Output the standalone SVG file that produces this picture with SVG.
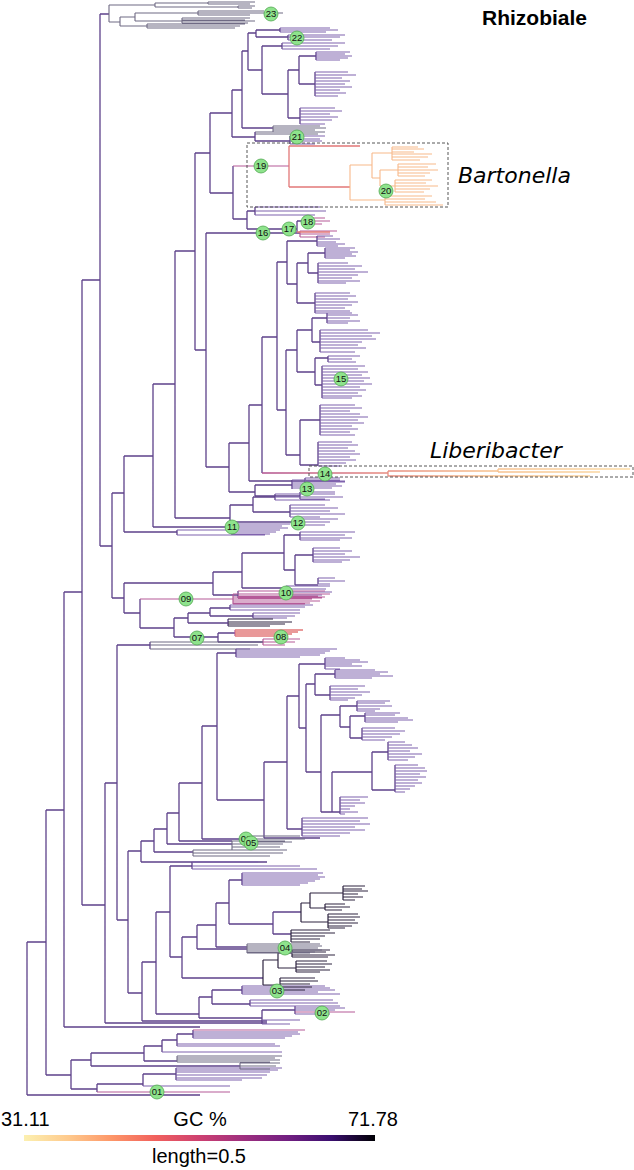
<svg xmlns="http://www.w3.org/2000/svg" width="634" height="1170" viewBox="0 0 634 1170">
<defs>
<linearGradient id="gc" x1="0" y1="0" x2="1" y2="0">
<stop offset="0" stop-color="#fcf0b0"/><stop offset="0.125" stop-color="#feca8d"/><stop offset="0.25" stop-color="#fd9668"/><stop offset="0.375" stop-color="#f1605d"/><stop offset="0.5" stop-color="#cd4071"/><stop offset="0.625" stop-color="#9e2f7f"/><stop offset="0.75" stop-color="#721f81"/><stop offset="0.875" stop-color="#3b0f70"/><stop offset="1" stop-color="#000004"/>
</linearGradient>
<linearGradient id="lib" gradientUnits="userSpaceOnUse" x1="262" y1="0" x2="632" y2="0">
<stop offset="0" stop-color="#b0508f"/><stop offset="0.3" stop-color="#e4857f"/><stop offset="0.6" stop-color="#f6be8c"/><stop offset="1" stop-color="#fbdca6"/>
</linearGradient>
</defs>
<style>
.b{fill:none;stroke:#5d418a;stroke-width:1.3}
.t{fill:none;stroke:#7f62ad;stroke-width:1.1}
.d{fill:none;stroke:#2e2440;stroke-width:1.2}
.g{fill:none;stroke:#6f6a84;stroke-width:1.1}
.p{fill:none;stroke:#b55a98;stroke-width:1.2}
.r{fill:none;stroke:#e27878;stroke-width:1.3}
.o{fill:none;stroke:#f7b98a;stroke-width:1.1}
.lb{fill:none;stroke:url(#lib);stroke-width:1.3}
.box{fill:none;stroke:#444;stroke-width:0.9;stroke-dasharray:3 2}
.n circle{fill:#8ee38c;stroke:#52a852;stroke-width:0.8}
.n text{font-family:"Liberation Sans",Arial,sans-serif;font-size:9.5px;text-anchor:middle;fill:#111}
.cl{font-family:"DejaVu Sans",sans-serif;font-style:italic;font-size:22px;fill:#000}
.lg{font-family:"Liberation Sans",Arial,sans-serif;font-size:20px;fill:#000}
</style>
<rect width="634" height="1170" fill="#fff"/>
<g id="connectors">
<path class="b" d="M27 942V1095M27 942H46M27 1095H200M46 810V1075M46 810H64M46 1075H71M64 592V1027M64 592H82M64 1027H200M82 280V905M82 280H100M82 905H105M100 14V546M100 14H109M100 546H112M105 783V1023M105 783H117M105 1023H267M112 493V598M112 493H124M112 598H124M124 456V532M124 456H153M124 532H177M124 583V613M124 583H213M124 613H140M153 384V527M153 384H175M153 527H232M175 251V518M175 251H195M175 518H230M195 153V350M195 153H210M195 350H206M210 113V193M210 113H232M210 193H233M206 233V467M206 467H229M229 443V492M229 443H249M229 492H255M249 405V481M249 405H262M249 481H305M262 337V473M262 337H277M277 262V410M277 262H287M277 410H286M117 645V920M117 645H150M117 920H128M128 851V993M128 851H141M128 993H142M141 841V862M141 841H154M141 862H267M154 829V852M154 829H167M154 852H193M167 813V844M167 813H179M167 844H232M179 783V841M179 783H202M179 841H232M202 726V839M202 726H217M202 839H247M217 653V800M217 653H236M217 800H264M264 762V838M264 762H287M264 838H320M287 696V829M287 696H299M287 829H302M142 962V1021M142 962H156M142 1021H267M156 912V1014M156 912H170M156 1014H199M170 866V957M170 866H192M170 957H182M182 937V978M182 937H197M182 978H263M197 925V949M197 925H216M197 949H247M216 903V947M216 903H229M216 947H247M229 880V924M229 880H242M229 924H273M71 1060V1089M71 1060H91M71 1089H97M91 1053V1066M91 1053H144M91 1066H240M97 1084V1092M97 1084H143M232 90V137M232 90H242M232 137H255M242 51V128M242 51H248M242 128H273M248 33V70M248 33H256M248 70H262M233 166V219M233 219H247M247 211V229M247 211H255M247 229H297M206 233H300M213 572V595M213 572H242M213 595H238M242 553V588M242 553H284M242 588H286M140 599V628M140 628H174M174 618V637M174 618H188M174 637H218M230 505V522M230 505H253M230 522H298M232 524V535M255 485V496M255 485H292M255 496H300M177 530V535"/>
<path class="g" d="M109 5V22M109 5H155M109 22H120M155 3V7M155 3H208M155 7H238M208 2V4M208 2H255M208 4H250M238 6V8M238 6H255M238 8H252M120 17V26M120 17H135M120 26H147M135 13V21M135 13H198M135 21H182M198 11V15M198 11H264M198 13H283M198 15H250M182 18V23M182 18H250M182 20H245M182 21H255M182 23H248M147 24V28M147 24H245M147 26H240M147 28H235M273 126V132M273 126H320M273 128H326M273 130H315M273 132H322M255 132H325M255 134H318"/>
<path class="b" d="M256 30V37M256 30H280M280 28V32M256 37H288M288 35V40M262 46V94M262 46H282M282 43V49M262 94H288M288 70V118M288 70H299M288 118H300M299 56V84M299 56H316M299 84H315M316 52V60M315 72V96M300 108V124M255 132V141M255 141H290M290 136V144"/>
<path class="t" d="M280 28H330M280 30H338M280 32H326M288 35H345M288 37H340M288 40H332M282 43H345M282 46H338M282 49H330M316 52H350M316 54H345M316 56H352M316 58H348M316 60H340M315 72H348M315 75H356M315 78H342M315 81H350M315 84H345M315 87H352M315 90H340M315 93H346M315 96H338M300 108H335M300 111H342M300 114H330M300 117H338M300 120H332M300 124H325M290 136H325M290 139H320M290 141H322M290 144H315"/>
<path class="p" d="M233 166H289"/>
<path class="r" d="M289 146V187M289 146H360M289 187H350"/>
<path class="o" d="M350 165V200M350 165H372M350 200H385M372 153V178M372 153H392M372 178H380M392 147V160M392 147H418M392 149H424M392 152H414M392 154H432M392 157H428M392 160H420M380 170V186M380 170H398M380 186H395M398 164V176M398 164H436M398 167H428M398 170H438M398 173H430M398 176H425M395 180V192M395 180H432M395 183H426M395 186H438M395 189H430M395 192H424M385 196V205M385 196H432M385 199H425M385 202H436M385 205H443"/>
<path class="b" d="M255 207V215M297 221V232M297 221H305"/>
<path class="t" d="M255 207H320M255 211H326M255 215H315"/>
<path class="p" d="M305 218V225M305 218H325M305 221H330M305 224H322M300 231V237M300 231H337M300 234H330M300 237H325"/>
<path class="r" d="M297 232H330"/>
<path class="b" d="M287 241V284M287 241H317M287 284H297M317 236V246M297 263V303M297 263H308M297 303H315M308 253V273M308 253H325M308 273H318M325 248V258M318 263V283M315 293V313M286 350V455M286 350H297M286 455H300M297 330V372M297 330H312M297 372H315M312 318V342M312 318H327M312 342H320M327 313V323M320 330V352M315 358V385M315 358H328M315 385H322M328 356V362M322 366V398M300 420V465M300 420H320M300 465H318M320 405V435M318 442V466"/>
<path class="t" d="M317 236H333M317 239H340M317 242H336M317 244H345M317 246H338M325 248H355M325 250H350M325 252H358M325 254H352M325 256H356M325 258H345M318 263H348M318 266H362M318 269H355M318 272H368M318 275H358M318 278H352M318 281H360M318 283H346M315 293H350M315 296H356M315 299H348M315 302H358M315 305H352M315 308H345M315 311H350M315 313H340M327 313H352M327 315H358M327 318H350M327 321H360M327 323H348M320 330H368M320 333H380M320 336H372M320 339H376M320 342H362M320 345H358M320 348H366M320 352H355M328 356H360M328 359H352M328 362H356M322 366H365M322 369H358M322 372H368M322 375H362M322 378H370M322 381H364M322 384H372M322 387H360M322 390H366M322 393H358M322 396H362M322 398H352M320 405H355M320 408H362M320 411H350M320 414H360M320 417H368M320 420H358M320 423H364M320 426H352M320 429H358M320 432H350M320 435H355M318 442H352M318 445H358M318 448H348M318 451H355M318 454H360M318 457H350M318 460H356M318 463H346M318 466H340"/>
<path class="lb" d="M262 473H388M388 471V476M388 471H498M388 476H590M498 469V472M498 469H630M498 472H600"/>
<path class="b" d="M305 478V484M292 480V489M300 492V499M253 497V512M253 497H275M275 494V500M253 512H290M290 505V517M298 519V525"/>
<path class="t" d="M305 478H340M305 481H345M305 484H335M292 480H340M292 482H345M292 484H336M292 486H342M292 488H332M300 492H335M300 494H330M300 497H338M300 499H325M275 494H335M275 497H343M275 500H330M290 505H325M290 508H338M290 511H330M290 514H345M290 517H320M298 519H338M298 522H330M298 525H325M232 524H290M232 526H282M232 528H288M232 530H280M232 532H276M232 534H270M177 530H273M177 535H265"/>
<path class="b" d="M284 535V570M284 535H300M284 570H295M300 532V540M295 555V585M295 555H313M295 585H318M313 548V562M318 578V584M286 586V596M238 591V598M188 613V623M188 613H210M188 623H228M210 608V616M210 608H230M210 616H253M230 605V610M253 613V618M228 619V626M218 633V642M218 633H235M218 642H263M150 642V649"/>
<path class="t" d="M300 532H355M300 535H345M300 538H352M300 540H340M313 548H340M313 551H352M313 554H345M313 557H360M313 560H350M313 562H342M318 578H335M318 581H345M318 584H330M286 586H330M286 589H326M286 592H332M286 595H322M230 605H313M230 607H305M230 610H300M253 613H300M253 616H295M253 618H287"/>
<path class="p" d="M238 591H325M238 594H330M238 596H318M238 598H322M140 599H233M233 594V604M233 594H318M233 597H325M233 599H312M233 601H320M233 603H310M233 604H305M235 630V636M263 639V645M263 639H300M263 642H295M263 645H285"/>
<path class="r" d="M235 630H303M235 632H298M235 634H292M235 636H288"/>
<path class="d" d="M228 619H273M228 622H292M228 624H285M228 626H270"/>
<path class="g" d="M150 642H263M150 645H258M150 649H250"/>
<path class="b" d="M236 649V657M299 664V728M299 664H325M299 728H306M325 658V669M306 684V772M306 684H315M306 772H321M315 674V695M315 674H335M315 695H330M335 670V678M330 686V700M321 715V812M321 715H340M321 812H332M340 706V727M340 706H357M340 727H350M357 701V711M350 716V738M350 716H365M350 738H362M365 713V722M362 728V740M332 772V812M332 772H372M332 812H340M372 752V790M372 752H388M372 790H395M388 742V760M395 765V792M340 797V814M302 818V836"/>
<path class="t" d="M236 649H337M236 651H330M236 653H325M236 655H320M236 657H300M325 658H345M325 660H360M325 662H368M325 664H352M325 666H362M325 669H340M335 670H375M335 672H388M335 674H380M335 676H393M335 678H372M330 686H365M330 689H358M330 692H370M330 695H362M330 698H355M330 700H348M357 701H390M357 703H385M357 706H392M357 709H380M357 711H375M365 713H400M365 715H395M365 718H408M365 720H413M365 722H398M362 728H395M362 731H405M362 734H400M362 737H392M362 740H385M388 742H405M388 745H412M388 748H418M388 751H410M388 754H422M388 757H415M388 760H408M395 765H418M395 768H425M395 771H427M395 774H420M395 777H426M395 780H418M395 783H422M395 786H415M395 789H410M395 792H405M340 797H368M340 800H360M340 803H365M340 806H355M340 809H350M340 812H358M340 814H345M302 818H368M302 821H360M302 824H370M302 827H355M302 830H365M302 833H350M302 836H340"/>
<path class="g" d="M247 836V842M247 836H300M247 839H305M247 842H292M232 841V850M232 841H285M232 844H283M232 847H280M232 850H275M193 850V856M193 850H287M193 853H283M193 856H270"/>
<path class="b" d="M192 862V869M242 873V885M273 912V934M273 912H301M273 934H291M262 1010V1024M199 997V1018M199 997H212M199 1018H262M212 990V1004M212 990H242M212 1004H250M242 986V994M250 1000V1006M262 1010H295M295 1006V1014"/>
<path class="t" d="M192 862H258M192 866H300M192 869H317M242 873H323M242 875H318M242 877H325M242 879H320M242 881H315M242 883H308M242 885H300M242 986H325M242 988H330M242 990H335M242 992H318M242 994H340M250 1000H333M250 1003H338M250 1006H325M262 1020H300M262 1024H290M295 1006H340M295 1008H345M295 1010H335M295 1014H330"/>
<path class="p" d="M295 1012H355"/>
<path class="d" d="M301 903V922M301 903H310M301 922H328M310 893V908M310 893H343M310 908H325M343 886V900M343 886H365M343 889H362M343 891H368M343 894H358M343 897H363M343 900H355M325 904V910M325 904H345M325 907H350M325 910H342M328 914V928M328 914H358M328 917H360M328 920H355M328 923H358M328 926H352M328 928H345M291 930V942M291 930H330M291 933H335M291 936H325M291 939H320M291 942H310M263 960V985M263 960H278M263 985H280M278 953V968M278 953H292M278 968H296M292 950V957M292 950H330M292 952H326M292 955H335M292 957H328M296 961V972M296 961H327M296 964H332M296 967H325M296 970H330M296 972H320M280 978V990M280 978H315M280 981H318M280 984H310M280 987H312M280 990H305"/>
<path class="g" d="M247 944V953M247 944H320M247 946H322M247 948H318M247 950H322M247 952H315M247 953H310"/>
<path class="b" d="M144 1046V1061M144 1046H162M144 1061H177M162 1040V1052M162 1040H177M177 1034V1046M177 1034H193M193 1030V1038M143 1074V1086M143 1074H176M176 1068V1080"/>
<path class="t" d="M162 1052H282M177 1046H280M177 1044H275M193 1032H298M193 1034H300M193 1036H292M193 1038H285M143 1086H230M176 1068H282M176 1070H278M176 1072H270M176 1075H267M176 1078H262M176 1080H242"/>
<path class="p" d="M193 1030H305M97 1092H230"/>
<path class="g" d="M177 1056V1062M177 1056H282M177 1058H275M177 1060H280M177 1062H270M240 1063V1069M240 1063H280M240 1066H276M240 1069H270"/>
</g>
<rect class="box" x="247" y="143" width="201" height="64"/>
<rect class="box" x="309" y="466" width="324" height="11"/>
<g id="n23" class="n"><circle cx="271" cy="14" r="7"/><text x="271" y="17.4">23</text></g>
<g id="n22" class="n"><circle cx="297" cy="38" r="7"/><text x="297" y="41.4">22</text></g>
<g id="n21" class="n"><circle cx="297" cy="137" r="7"/><text x="297" y="140.4">21</text></g>
<g id="n19" class="n"><circle cx="261" cy="166" r="7"/><text x="261" y="169.4">19</text></g>
<g id="n20" class="n"><circle cx="386" cy="191" r="7"/><text x="386" y="194.4">20</text></g>
<g id="n18" class="n"><circle cx="308" cy="222" r="7"/><text x="308" y="225.4">18</text></g>
<g id="n17" class="n"><circle cx="289" cy="229" r="7"/><text x="289" y="232.4">17</text></g>
<g id="n16" class="n"><circle cx="263" cy="233" r="7"/><text x="263" y="236.4">16</text></g>
<g id="n15" class="n"><circle cx="341" cy="379" r="7"/><text x="341" y="382.4">15</text></g>
<g id="n14" class="n"><circle cx="325" cy="474" r="7"/><text x="325" y="477.4">14</text></g>
<g id="n13" class="n"><circle cx="307" cy="489" r="7"/><text x="307" y="492.4">13</text></g>
<g id="n12" class="n"><circle cx="298" cy="523" r="7"/><text x="298" y="526.4">12</text></g>
<g id="n11" class="n"><circle cx="232" cy="527" r="7"/><text x="232" y="530.4">11</text></g>
<g id="n10" class="n"><circle cx="286" cy="593" r="7"/><text x="286" y="596.4">10</text></g>
<g id="n09" class="n"><circle cx="186" cy="599" r="7"/><text x="186" y="602.4">09</text></g>
<g id="n08" class="n"><circle cx="281" cy="637" r="7"/><text x="281" y="640.4">08</text></g>
<g id="n07" class="n"><circle cx="197" cy="638" r="7"/><text x="197" y="641.4">07</text></g>
<g id="n06" class="n"><circle cx="246" cy="839" r="7"/><text x="246" y="842.4">06</text></g>
<g id="n05" class="n"><circle cx="251" cy="843" r="7"/><text x="251" y="846.4">05</text></g>
<g id="n04" class="n"><circle cx="285" cy="948" r="7"/><text x="285" y="951.4">04</text></g>
<g id="n03" class="n"><circle cx="277" cy="991" r="7"/><text x="277" y="994.4">03</text></g>
<g id="n02" class="n"><circle cx="322" cy="1013" r="7"/><text x="322" y="1016.4">02</text></g>
<g id="n01" class="n"><circle cx="157" cy="1092" r="7"/><text x="157" y="1095.4">01</text></g>
<text x="482" y="25" font-family="Liberation Sans, Arial, sans-serif" font-size="21" font-weight="bold" fill="#000">Rhizobiale</text>
<text class="cl" x="458" y="183">Bartonella</text>
<text class="cl" x="430" y="458">Liberibacter</text>
<g id="legend">
<text class="lg" x="1" y="1126">31.11</text>
<text class="lg" x="200" y="1126" text-anchor="middle">GC %</text>
<text class="lg" x="398" y="1126" text-anchor="end">71.78</text>
<rect x="24" y="1135" width="351" height="6" fill="url(#gc)"/>
<text class="lg" x="199" y="1163" text-anchor="middle">length=0.5</text>
</g>
</svg>
